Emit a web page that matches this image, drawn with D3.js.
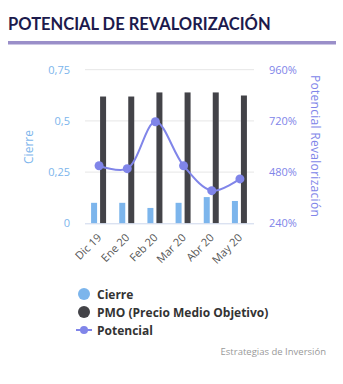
<!DOCTYPE html>
<html>
<head>
<meta charset="utf-8">
<script src="https://cdn.jsdelivr.net/npm/d3@7"></script>
<style>
  body { margin: 0; background: #fff; }
  svg { display: block; }
</style>
</head>
<body>
<div id="chart"></div>
<script>
// chart data
const months = ['Dic 19', 'Ene 20', 'Feb 20', 'Mar 20', 'Abr 20', 'May 20'];
const cierre = [0.10, 0.10, 0.075, 0.10, 0.128, 0.109];
const pmo = [0.619, 0.619, 0.639, 0.639, 0.639, 0.624];
const potencial = [510, 496, 716, 510, 393, 448];
const leftTicks = [0, 0.25, 0.5, 0.75];
const rightTicks = [240, 480, 720, 960];

const width = 343, height = 384;
const plot = { left: 85, right: 254, top: 69.7, bottom: 223.3 };

const colors = { cierre: '#7cb5ec', pmo: '#434348', pot: '#8085e9' };
const font = '"Open Sans", sans-serif';

const svg = d3.select('#chart').append('svg')
  .attr('width', width).attr('height', height);

// title + underline
svg.append('text')
  .attr('x', 8).attr('y', 30)
  .attr('font-family', 'Lato, sans-serif')
  .attr('font-weight', 'bold')
  .attr('font-size', 16.5)
  .attr('fill', '#1c1a4c')
  .text('POTENCIAL DE REVALORIZACIÓN');
svg.append('rect')
  .attr('x', 8).attr('y', 41).attr('width', 328).attr('height', 3.5)
  .attr('fill', '#9a8fc9');

const x = d3.scaleBand().domain(months).range([plot.left, plot.right]);
const yL = d3.scaleLinear().domain([0, 0.75]).range([plot.bottom, plot.top]);
const yR = d3.scaleLinear().domain([240, 960]).range([plot.bottom, plot.top]);
const cx = d => x(d) + x.bandwidth() / 2;

// gridlines
svg.append('g').selectAll('line').data(leftTicks.slice(1)).join('line')
  .attr('x1', plot.left).attr('x2', plot.right)
  .attr('y1', d => yL(d)).attr('y2', d => yL(d))
  .attr('stroke', '#e6e6e6');

// left axis labels
svg.append('g').selectAll('text').data(leftTicks).join('text')
  .attr('x', 70).attr('y', d => yL(d) + 4)
  .attr('text-anchor', 'end')
  .attr('font-family', font).attr('font-size', 11)
  .attr('fill', colors.cierre)
  .text(d => d3.format('.2~f')(d).replace('.', ','));

// right axis labels
svg.append('g').selectAll('text').data(rightTicks).join('text')
  .attr('x', 269).attr('y', d => yR(d) + 4)
  .attr('font-family', font).attr('font-size', 11)
  .attr('fill', colors.pot)
  .text(d => d + '%');

// axis titles
svg.append('text')
  .attr('transform', 'translate(33,147) rotate(-90)')
  .attr('text-anchor', 'middle')
  .attr('font-family', font).attr('font-size', 12)
  .attr('fill', colors.cierre)
  .text('Cierre');
svg.append('text')
  .attr('transform', 'translate(311,146) rotate(90)')
  .attr('text-anchor', 'middle')
  .attr('font-family', font).attr('font-size', 12)
  .attr('letter-spacing', 0.3)
  .attr('fill', colors.pot)
  .text('Potencial Revalorización');

// bars
svg.append('g').selectAll('rect').data(months).join('rect')
  .attr('x', d => cx(d) - 8)
  .attr('width', 6)
  .attr('y', (d, i) => yL(cierre[i]))
  .attr('height', (d, i) => plot.bottom - yL(cierre[i]))
  .attr('fill', colors.cierre);
svg.append('g').selectAll('rect').data(months).join('rect')
  .attr('x', d => cx(d) + 1)
  .attr('width', 6)
  .attr('y', (d, i) => yL(pmo[i]))
  .attr('height', (d, i) => plot.bottom - yL(pmo[i]))
  .attr('fill', colors.pmo);

// x axis line
svg.append('line')
  .attr('x1', plot.left).attr('x2', plot.right)
  .attr('y1', plot.bottom + 0.5).attr('y2', plot.bottom + 0.5)
  .attr('stroke', '#ccd6eb');

// x labels
svg.append('g').selectAll('text').data(months).join('text')
  .attr('transform', d => `translate(${cx(d) + 3},${plot.bottom + 15}) rotate(-45)`)
  .attr('text-anchor', 'end')
  .attr('font-family', font).attr('font-size', 11)
  .attr('fill', '#555')
  .text(d => d);

// potencial line
const line = d3.line()
  .x((d, i) => cx(months[i]))
  .y(d => yR(d))
  .curve(d3.curveCatmullRom.alpha(0.5));
svg.append('path')
  .datum(potencial)
  .attr('d', line)
  .attr('fill', 'none')
  .attr('stroke', colors.pot)
  .attr('stroke-width', 2);
svg.append('g').selectAll('circle').data(potencial).join('circle')
  .attr('cx', (d, i) => cx(months[i]))
  .attr('cy', d => yR(d))
  .attr('r', 4.5)
  .attr('fill', colors.pot);

// legend
const legend = [
  { label: 'Cierre', color: colors.cierre, type: 'dot' },
  { label: 'PMO (Precio Medio Objetivo)', color: colors.pmo, type: 'dot' },
  { label: 'Potencial', color: colors.pot, type: 'line' },
];
const lg = svg.append('g').selectAll('g').data(legend).join('g')
  .attr('transform', (d, i) => `translate(84,${294 + i * 18})`);
lg.filter(d => d.type === 'dot').append('circle')
  .attr('r', 6).attr('fill', d => d.color);
lg.filter(d => d.type === 'line').append('line')
  .attr('x1', -8).attr('x2', 8)
  .attr('stroke', d => d.color).attr('stroke-width', 2);
lg.filter(d => d.type === 'line').append('circle')
  .attr('r', 4).attr('fill', d => d.color);
lg.append('text')
  .attr('x', 13).attr('y', 4.5)
  .attr('font-family', font).attr('font-weight', 'bold').attr('font-size', 12)
  .attr('fill', '#333')
  .text(d => d.label);

// credit
svg.append('text')
  .attr('x', 326).attr('y', 355)
  .attr('text-anchor', 'end')
  .attr('font-family', font).attr('font-size', 9.5)
  .attr('fill', '#999')
  .text('Estrategias de Inversión');
</script>
</body>
</html>
